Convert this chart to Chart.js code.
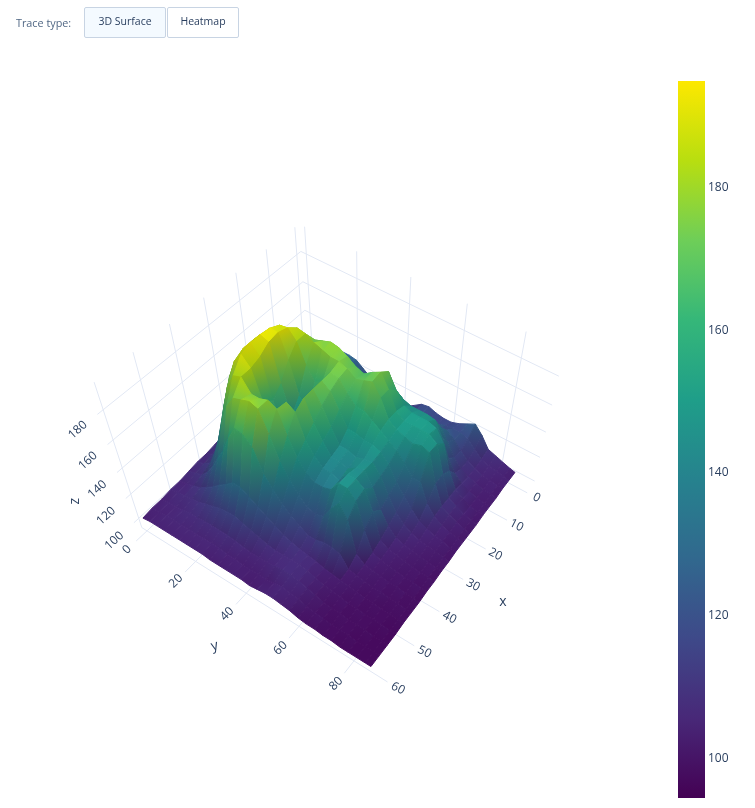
<!DOCTYPE html>
<html>
<head>
<meta charset="utf-8">
<script src="https://cdn.jsdelivr.net/npm/chart.js@4"></script>
<style>
    body { margin: 0; background: #fff; font-family: "Open Sans", sans-serif; color: #2a3f5f; }
    #page { position: relative; width: 755px; height: 808px; overflow: hidden; }
    #surface-chart { position: absolute; left: 0; top: 0; }
    #colorbar-wrap { position: absolute; left: 678px; top: 81px; }
    .trace-label { position: absolute; left: 16px; top: 15px; font-size: 10.8px; line-height: 16px; color: #506784; }
    .trace-btn { position: absolute; top: 7px; height: 29px; border: 1px solid #c8d4e3; border-radius: 2px;
        background: #fff; font-size: 10.5px; line-height: 26px; text-align: center; color: #2a3f5f; }
    .trace-btn.active { background: #f4faff; }
</style>
</head>
<body>
<div id="page">
    <canvas id="surface-chart" width="755" height="808"></canvas>
    <div id="colorbar-wrap"><canvas id="colorbar-chart" width="77" height="717"></canvas></div>
    <div class="trace-label">Trace type:</div>
    <div class="trace-btn active" style="left:84px;width:80px">3D Surface</div>
    <div class="trace-btn" style="left:167px;width:70px">Heatmap</div>
</div>
<script>
const xTicks = [0, 10, 20, 30, 40, 50, 60];
const yTicks = [0, 20, 40, 60, 80];
const zTicks = [100, 120, 140, 160, 180];
const colorTicks = [100, 120, 140, 160, 180];

const xGrid = [0, 3, 6, 9, 12, 15, 18, 21, 24, 27, 30, 33, 36, 39, 42, 45, 48, 51, 54, 57, 60];
const yGrid = [0, 3, 6, 9, 12, 15, 18, 21, 24, 27, 30, 33, 36, 39, 42, 45, 48, 51, 54, 57, 60, 63, 66, 69, 72, 75, 78, 81, 84, 86];

// one row per yGrid value
const heights = [
    [118,118,118,116,114,112,111,110,110,110,110,109,108,107,107,106,105,105,104,104,103],
    [120,120,119,118,116,115,114,113,113,114,114,113,112,110,109,108,106,106,105,104,104],
    [122,122,121,120,119,118,118,118,120,124,126,124,120,116,113,110,108,107,105,105,104],
    [124,124,124,123,124,126,128,132,140,150,156,154,146,134,124,116,110,108,106,105,104],
    [126,126,126,127,130,136,144,155,165,172,175,176,170,155,138,124,114,109,107,105,104],
    [127,127,128,130,136,146,158,170,180,185,186,186,183,172,155,134,118,111,107,105,104],
    [127,128,130,134,142,154,168,180,188,191,192,192,190,182,168,143,123,113,108,105,104],
    [126,128,131,137,146,158,172,184,189,191,190,186,184,184,176,155,127,115,108,105,104],
    [122,125,129,136,147,160,174,183,183,176,166,160,165,176,178,165,132,116,108,105,104],
    [118,122,127,135,148,162,176,180,170,155,146,145,150,176,180,164,132,116,108,105,103],
    [115,119,125,134,148,164,178,178,162,148,142,146,165,178,178,158,128,114,107,104,103],
    [112,116,122,132,147,163,177,176,165,154,148,160,174,175,164,142,124,112,106,104,103],
    [110,114,120,130,146,162,174,176,174,174,174,174,170,160,148,134,120,110,105,103,103],
    [109,113,119,130,145,160,170,174,173,170,166,160,154,148,138,126,116,108,105,103,103],
    [110,113,119,130,145,160,168,170,166,160,154,150,146,140,130,120,112,107,105,103,102],
    [114,115,120,132,148,164,172,172,160,150,144,142,140,136,124,116,110,107,106,103,103],
    [118,118,122,134,152,170,175,174,160,150,144,142,140,136,122,112,108,107,107,104,104],
    [119,120,124,134,148,160,166,166,156,148,142,140,138,138,124,112,107,107,107,105,104],
    [117,119,124,133,146,152,154,154,152,148,144,144,146,146,134,114,106,106,106,104,103],
    [116,118,124,133,146,150,150,150,148,146,145,146,146,146,142,114,104,104,104,103,102],
    [116,119,125,134,146,150,150,148,144,140,138,136,142,140,132,112,103,102,102,101,100],
    [118,120,125,133,145,150,150,146,138,130,126,122,128,120,108,103,102,101,100,100,99],
    [121,120,121,125,135,148,150,148,130,122,116,112,108,105,103,102,101,100,99,99,99],
    [124,118,115,116,122,140,146,146,130,115,110,106,104,103,102,101,100,99,99,98,98],
    [118,113,110,110,113,122,126,125,116,109,106,104,103,102,101,100,99,99,98,98,98],
    [110,108,107,107,108,110,110,110,109,106,104,103,102,101,100,100,99,98,98,98,97],
    [108,106,105,105,105,106,107,107,105,104,103,102,101,100,100,99,98,98,98,97,97],
    [106,105,104,103,103,103,104,104,103,103,102,101,100,100,99,99,98,98,97,97,97],
    [104,104,103,103,102,102,102,102,102,101,101,100,100,99,99,98,98,97,97,97,97],
    [103,103,103,102,102,102,101,101,101,101,100,100,99,99,98,98,98,97,97,97,97]
];

const viridis = ['#440154', '#482878', '#3e4989', '#31688e', '#26828e', '#1f9e89', '#35b779', '#6ece58', '#b8de10', '#fde800'];
const colorMin = 94.4;
const colorMax = 195;

// ranges of the 3D box, slightly wider than the data like plotly does
const xRange = [-1.5, 61.5];
const yRange = [-2.2, 88.2];
const zRange = [92, 197];

// fitted camera: box coordinates (u, v, w) to the plane of the scatter scales
const camera = [
    [-192.4, 172.8, -54.85, 309],
    [80.8, 75.6, -181.6, 372],
    [-0.1489, -0.0752, -0.15, 1]
];

const project3d = (u, v, w) => {
    const d = camera[2][0] * u + camera[2][1] * v + camera[2][2] * w + camera[2][3];
    return {
        x: (camera[0][0] * u + camera[0][1] * v + camera[0][2] * w + camera[0][3]) / d,
        y: (camera[1][0] * u + camera[1][1] * v + camera[1][2] * w + camera[1][3]) / d
    };
};
const toU = x => (x - xRange[0]) / (xRange[1] - xRange[0]);
const toV = y => (y - yRange[0]) / (yRange[1] - yRange[0]);
const toW = z => (z - zRange[0]) / (zRange[1] - zRange[0]);

const viridisRgb = viridis.map(c => [1, 3, 5].map(i => parseInt(c.substr(i, 2), 16)));

const colorFor = (z, light) => {
    const t = Math.min(1, Math.max(0, (z - colorMin) / (colorMax - colorMin))) * (viridisRgb.length - 1);
    const i = Math.min(viridisRgb.length - 2, Math.floor(t));
    const f = t - i;
    const rgb = viridisRgb[i].map((c, k) => Math.min(255, (c + (viridisRgb[i + 1][k] - c) * f) * light));
    return `rgb(${rgb[0]}, ${rgb[1]}, ${rgb[2]})`;
};

// steep quads come out darker, flat ones keep the plain colorscale value
const quadLight = (corners) => {
    const [a, b, c, d] = corners;
    const du = [(b.u + c.u - a.u - d.u) / 2, (b.v + c.v - a.v - d.v) / 2, (b.w + c.w - a.w - d.w) / 2];
    const dv = [(d.u + c.u - a.u - b.u) / 2, (d.v + c.v - a.v - b.v) / 2, (d.w + c.w - a.w - b.w) / 2];
    const n = [du[1] * dv[2] - du[2] * dv[1], du[2] * dv[0] - du[0] * dv[2], du[0] * dv[1] - du[1] * dv[0]];
    const len = Math.hypot(n[0], n[1], n[2]) || 1;
    return 0.78 + 0.24 * Math.abs(n[2]) / len;
};

const quadGradient = (chart, corners) => {
    const low = corners.reduce((p, c) => c.z < p.z ? c : p);
    const high = corners.reduce((p, c) => c.z > p.z ? c : p);
    const light = quadLight(corners);
    if (high.z === low.z) return colorFor(low.z, light);
    const sx = chart.scales.x, sy = chart.scales.y;
    const p0 = project3d(low.u, low.v, low.w);
    const p1 = project3d(high.u, high.v, high.w);
    const ends = [sx.getPixelForValue(p0.x), sy.getPixelForValue(p0.y), sx.getPixelForValue(p1.x), sy.getPixelForValue(p1.y)];
    // scales have no size yet on the very first resolve
    if (!ends.every(Number.isFinite)) return colorFor(low.z, light);
    const g = chart.ctx.createLinearGradient(ends[0], ends[1], ends[2], ends[3]);
    g.addColorStop(0, colorFor(low.z, light));
    g.addColorStop(1, colorFor(high.z, light));
    return g;
};

const corner = (col, row) => {
    const z = heights[row][col];
    return { z, u: toU(xGrid[col]), v: toV(yGrid[row]), w: toW(z) };
};

// back to front, chart.js draws the last dataset first
const surfaceDatasets = [];
for (let row = 0; row < yGrid.length - 1; row++) {
    for (let col = 0; col < xGrid.length - 1; col++) {
        const corners = [corner(col, row), corner(col + 1, row), corner(col + 1, row + 1), corner(col, row + 1)];
        const points = corners.concat(corners[0]).map(c => project3d(c.u, c.v, c.w));
        const paint = ctx => quadGradient(ctx.chart, corners);
        surfaceDatasets.unshift({
            data: points,
            showLine: true,
            fill: 'shape',
            tension: 0,
            pointRadius: 0,
            borderWidth: 1,
            backgroundColor: paint,
            borderColor: paint
        });
    }
}

const gridLine = (from, to) => ({
    data: [project3d(from[0], from[1], from[2]), project3d(to[0], to[1], to[2])],
    showLine: true,
    fill: false,
    pointRadius: 0,
    borderWidth: 1,
    borderColor: '#e2e8f4'
});

const gridDatasets = [];
zTicks.forEach(z => {
    gridDatasets.push(gridLine([0, 0, toW(z)], [1, 0, toW(z)]));
    gridDatasets.push(gridLine([0, 0, toW(z)], [0, 1.05, toW(z)]));
});
xTicks.forEach(x => {
    gridDatasets.push(gridLine([toU(x), 0, 0], [toU(x), 0, 1]));
    gridDatasets.push(gridLine([toU(x), 0, 0], [toU(x), 1.04, 0]));
});
yTicks.forEach(y => {
    gridDatasets.push(gridLine([0, toV(y), 0], [0, toV(y), 1]));
    gridDatasets.push(gridLine([0, toV(y), 0], [1.03, toV(y), 0]));
});

const axisLabels = {
    id: 'axisLabels',
    afterDraw(chart) {
        const { ctx, scales } = chart;
        const put = (text, p, angle) => {
            ctx.save();
            ctx.translate(scales.x.getPixelForValue(p.x), scales.y.getPixelForValue(p.y));
            ctx.rotate(angle * Math.PI / 180);
            ctx.fillText(text, 0, 0);
            ctx.restore();
        };
        ctx.save();
        ctx.font = '12px "Open Sans"';
        ctx.fillStyle = '#2a3f5f';
        ctx.textAlign = 'center';
        ctx.textBaseline = 'middle';
        xTicks.forEach(x => put(String(x), project3d(toU(x), 1.08, 0), 27));
        yTicks.forEach(y => put(String(y), project3d(1.075, toV(y), 0), -45));
        zTicks.forEach(z => put(String(z), project3d(1.095 - 0.02 * toW(z), 0, toW(z)), -42));
        ctx.font = '14px "Open Sans"';
        put('x', project3d(toU(30), 1.2, 0), 0);
        put('y', project3d(1.19, toV(44), 0), -15);
        put('z', project3d(1.17, 0, toW(144)), -90);
        ctx.restore();
    }
};

new Chart(document.getElementById('surface-chart'), {
    type: 'scatter',
    data: { datasets: surfaceDatasets.concat(gridDatasets) },
    options: {
        responsive: false,
        animation: false,
        events: [],
        layout: { padding: 0 },
        scales: {
            x: { type: 'linear', display: false, min: 0, max: 755 },
            y: { type: 'linear', display: false, min: 0, max: 808, reverse: true }
        },
        plugins: { legend: { display: false }, tooltip: { enabled: false } }
    },
    plugins: [axisLabels]
});

// colorbar
new Chart(document.getElementById('colorbar-chart'), {
    type: 'bar',
    data: {
        labels: ['z'],
        datasets: [{
            data: [[colorMin, colorMax]],
            barPercentage: 1,
            categoryPercentage: 1,
            backgroundColor: ctx => {
                const area = ctx.chart.chartArea;
                if (!area) return viridis[0];
                const g = ctx.chart.ctx.createLinearGradient(0, area.bottom, 0, area.top);
                viridis.forEach((c, i) => g.addColorStop(i / (viridis.length - 1), c));
                return g;
            }
        }]
    },
    options: {
        responsive: false,
        animation: false,
        events: [],
        layout: { padding: 0 },
        scales: {
            x: { display: false },
            y: {
                position: 'right',
                min: colorMin,
                max: colorMax,
                grid: { display: false, drawTicks: false },
                border: { display: false },
                afterFit: scale => { scale.width = 50; scale.paddingTop = 0; scale.paddingBottom = 0; },
                afterBuildTicks: scale => { scale.ticks = colorTicks.map(v => ({ value: v })); },
                ticks: { padding: 3, color: '#2a3f5f', font: { family: '"Open Sans"', size: 12 } }
            }
        },
        plugins: { legend: { display: false }, tooltip: { enabled: false } }
    }
});
</script>
</body>
</html>
